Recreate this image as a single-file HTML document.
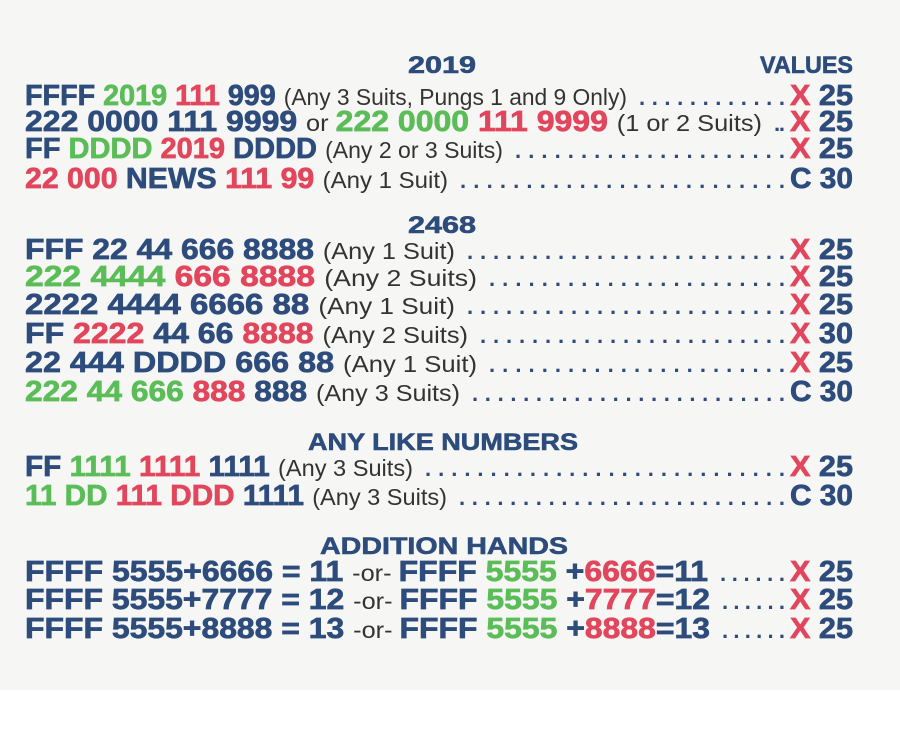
<!DOCTYPE html>
<html><head><meta charset="utf-8"><style>
html,body{margin:0;padding:0;background:#fff}
svg{display:block}
.b{font-family:"Liberation Sans",sans-serif;font-weight:bold;font-size:29px;stroke-width:0.7px}
.p{font-family:"Liberation Sans",sans-serif;font-weight:normal;font-size:23px;fill:#333}
.bl{fill:#2d4c7c;stroke:#2d4c7c}.gr{fill:#5bbd58;stroke:#5bbd58}.rd{fill:#e2465c;stroke:#e2465c}
.h{font-family:"Liberation Sans",sans-serif;font-weight:bold;font-size:24px;fill:#2d4c7c;stroke:#2d4c7c;stroke-width:0.6px}
.d{font-family:"Liberation Sans",sans-serif;font-weight:bold;font-size:22px;fill:#2d4c7c}
</style></head><body>
<svg width="900" height="741" viewBox="0 0 900 741">
<rect x="0" y="0" width="900" height="690" fill="#f6f6f5"/>
<rect x="0" y="690" width="900" height="51" fill="#ffffff"/>
<g id="content"></g>
</svg>
<script>
const headers=[["2019",408,73,68],["VALUES",760,73,93],["2468",408,233,68],["ANY LIKE NUMBERS",308,450,270],["ADDITION HANDS",320,554,248]];
const rows=[
[105,627,[["bl","FFFF "],["gr","2019 "],["rd","111 "],["bl","999 "],["p","(Any 3 Suits, Pungs 1 and 9 Only)"]],"X","25"],
[131,762,[["bl","222 0000 111 9999 "],["p","or "],["gr","222 0000 "],["rd","111 9999 "],["p"," (1 or 2 Suits)"]],"X","25"],
[158,503,[["bl","FF "],["gr","DDDD "],["rd","2019 "],["bl","DDDD "],["p","(Any 2 or 3 Suits)"]],"X","25"],
[188,448,[["rd","22 000 "],["bl","NEWS "],["rd","111 99 "],["p","(Any 1 Suit)"]],"C","30"],
[259,455,[["bl","FFF 22 44 666 8888 "],["p","(Any 1 Suit)"]],"X","25"],
[286,477,[["gr","222 4444 "],["rd","666 8888 "],["p","(Any 2 Suits)"]],"X","25"],
[314,455,[["bl","2222 4444 6666 88 "],["p","(Any 1 Suit)"]],"X","25"],
[343,468,[["bl","FF "],["rd","2222 "],["bl","44 66 "],["rd","8888 "],["p","(Any 2 Suits)"]],"X","30"],
[372,477,[["bl","22 444 DDDD 666 88 "],["p","(Any 1 Suit)"]],"X","25"],
[401,460,[["gr","222 44 666 "],["rd","888 "],["bl","888 "],["p","(Any 3 Suits)"]],"C","30"],
[476,413,[["bl","FF "],["gr","1111 "],["rd","1111 "],["bl","1111 "],["p","(Any 3 Suits)"]],"X","25"],
[505,447,[["gr","11 DD "],["rd","111 DDD "],["bl","1111 "],["p","(Any 3 Suits)"]],"C","30"],
[581,708,[["bl","FFFF 5555+6666 = 11 "],["p","-or- "],["bl","FFFF "],["gr","5555 "],["bl","+"],["rd","6666"],["bl","=11"]],"X","25"],
[609,710,[["bl","FFFF 5555+7777 = 12 "],["p","-or- "],["bl","FFFF "],["gr","5555 "],["bl","+"],["rd","7777"],["bl","=12"]],"X","25"],
[638,710,[["bl","FFFF 5555+8888 = 13 "],["p","-or- "],["bl","FFFF "],["gr","5555 "],["bl","+"],["rd","8888"],["bl","=13"]],"X","25"]
];
const NS="http://www.w3.org/2000/svg";
const g=document.getElementById('content');
function mk(tag,attrs){const e=document.createElementNS(NS,tag);for(const k in attrs)e.setAttribute(k,attrs[k]);return e;}
headers.forEach(h=>{
 const t=mk('text',{x:h[1],y:h[2],class:'h',textLength:h[3],lengthAdjust:'spacingAndGlyphs'});
 
 
 t.textContent=h[0];g.appendChild(t);
});
rows.forEach((r,i)=>{
 const t=mk('text',{x:25,y:r[0],textLength:r[1]-25,lengthAdjust:'spacingAndGlyphs'});
 
 
 r[2].forEach(s=>{
  const ts=mk('tspan',{class:s[0]==='p'?'p':'b '+s[0]});
  ts.textContent=s[1];t.appendChild(ts);
 });
 g.appendChild(t);
 const ds=r[1]+12, n=Math.max(1,Math.round((785-ds)/13.3)+1);
 const d=mk('text',{x:ds,y:r[0],class:'d',textLength:785-ds,lengthAdjust:'spacing'});
 
 
 d.textContent='.'.repeat(n);g.appendChild(d);
 const v=mk('text',{x:790,y:r[0],class:'b',textLength:63,lengthAdjust:'spacingAndGlyphs'});
 
 
 const a=mk('tspan',{class:r[3]==='X'?'rd':'bl'});a.textContent=r[3]+' ';
 const b=mk('tspan',{class:'bl'});b.textContent=r[4];
 v.appendChild(a);v.appendChild(b);g.appendChild(v);
});
</script>
</body></html>
